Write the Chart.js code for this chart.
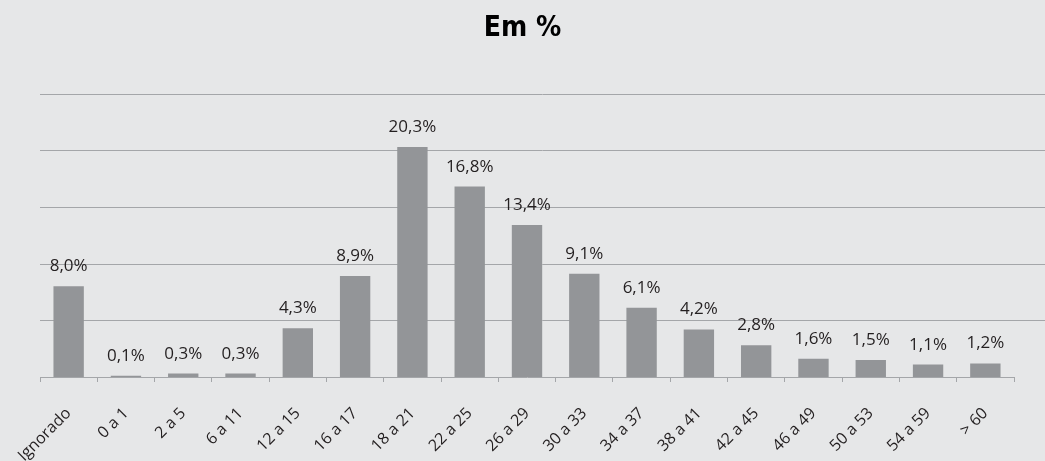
<!DOCTYPE html>
<html>
<head>
<meta charset="utf-8">
<script src="https://cdn.jsdelivr.net/npm/chart.js@4/dist/chart.umd.min.js"></script>
<style>
  html, body { margin: 0; padding: 0; background: #e6e7e8; }
  canvas { display: block; }
</style>
</head>
<body>
<canvas id="chart" width="1045" height="461"></canvas>
<script>
// Age groups and their share (%)
const categories = ['Ignorado', '0 a 1', '2 a 5', '6 a 11', '12 a 15', '16 a 17', '18 a 21', '22 a 25',
  '26 a 29', '30 a 33', '34 a 37', '38 a 41', '42 a 45', '46 a 49', '50 a 53', '54 a 59', '> 60'];
const shares = [8.0, 0.1, 0.3, 0.3, 4.3, 8.9, 20.3, 16.8, 13.4, 9.1, 6.1, 4.2, 2.8, 1.6, 1.5, 1.1, 1.2];
const gridValues = [5, 10, 15, 20, 25];

const TEXT = '#231f20';
const BAR = '#939598';
const LINE = '#a4a6a9';
const LABEL_FONT = "'Open Sans', 'Liberation Sans', sans-serif";
const TITLE_FONT = "'Liberation Sans Narrow', 'DejaVu Sans Condensed', 'Liberation Sans', sans-serif";

// Horizontal guide lines running from the plot's left edge to the canvas edge
const guideLines = {
  id: 'guideLines',
  beforeDatasetsDraw(chart) {
    const { ctx, chartArea, scales } = chart;
    ctx.save();
    ctx.strokeStyle = LINE;
    ctx.lineWidth = 1;
    gridValues.forEach(v => {
      const y = Math.round(scales.y.getPixelForValue(v)) + 0.5;
      ctx.beginPath();
      ctx.moveTo(chartArea.left, y);
      ctx.lineTo(chart.width, y);
      ctx.stroke();
    });
    ctx.restore();
  }
};

// Percentage labels above each bar
const valueLabels = {
  id: 'valueLabels',
  afterDatasetsDraw(chart) {
    const { ctx } = chart;
    const meta = chart.getDatasetMeta(0);
    ctx.save();
    ctx.fillStyle = TEXT;
    ctx.font = `17px ${LABEL_FONT}`;
    ctx.textAlign = 'center';
    ctx.textBaseline = 'alphabetic';
    meta.data.forEach((bar, i) => {
      const txt = shares[i].toFixed(1).replace('.', ',') + '%';
      ctx.fillText(txt, bar.x, bar.y - 15);
    });
    ctx.restore();
  }
};

new Chart(document.getElementById('chart'), {
  type: 'bar',
  data: {
    labels: categories,
    datasets: [{
      data: shares,
      backgroundColor: BAR,
      borderWidth: 0,
      categoryPercentage: 1,
      barPercentage: 0.53
    }]
  },
  plugins: [guideLines, valueLabels],
  options: {
    responsive: false,
    animation: false,
    layout: { padding: 0 },
    plugins: {
      legend: { display: false },
      tooltip: { enabled: false },
      title: {
        display: true,
        text: 'Em %',
        color: '#000',
        font: { family: TITLE_FONT, size: 28, weight: 'bold', lineHeight: 1.2 },
        padding: { top: 12, bottom: 48 }
      }
    },
    scales: {
      x: {
        grid: {
          display: true,
          drawOnChartArea: false,
          drawTicks: true,
          tickLength: 5,
          color: LINE,
          offset: true
        },
        border: { display: true, color: LINE, width: 1 },
        ticks: {
          color: TEXT,
          font: { family: LABEL_FONT, size: 16 },
          minRotation: 45,
          maxRotation: 45,
          padding: 22
        },
        afterFit(scale) {
          scale.height = 84;
          scale.paddingLeft = 0;
          scale.paddingRight = 0;
        }
      },
      y: {
        min: 0,
        max: 25,
        grid: { display: false },
        border: { display: false },
        ticks: { display: false, stepSize: 5 },
        afterFit(scale) { scale.width = 40; }
      },
      // empty right-hand margin so the guide lines can run past the last category
      yRight: {
        position: 'right',
        min: 0,
        max: 25,
        grid: { display: false },
        border: { display: false },
        ticks: { display: false },
        afterFit(scale) { scale.width = 31; }
      }
    }
  }
});
</script>
</body>
</html>
